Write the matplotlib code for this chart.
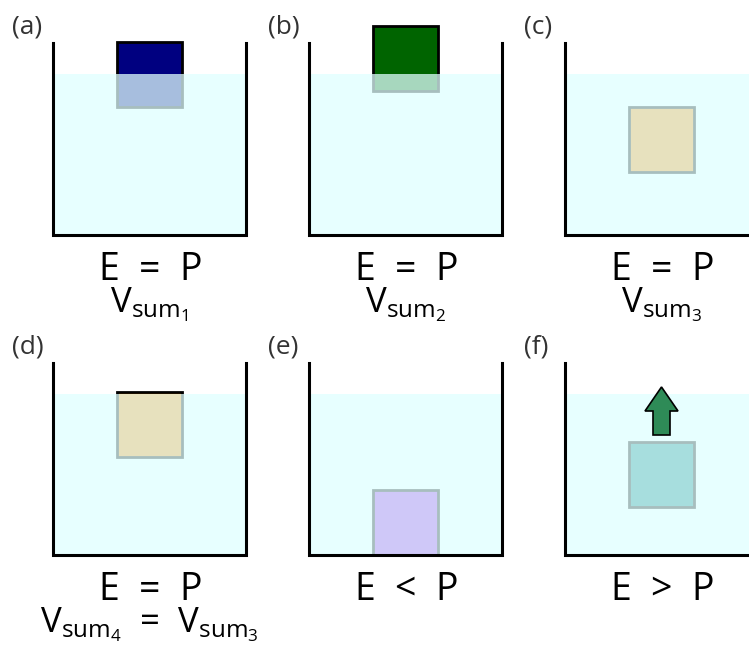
import matplotlib
matplotlib.use("Agg")
import matplotlib.pyplot as plt
import matplotlib.patches as mpatches

# panel content
panel_labels = ['(a)', '(b)', '(c)', '(d)', '(e)', '(f)']
block_colors = ['#000080', '#006400', '#ff8c00', '#ff8c00', '#a028e6', '#008080']
# top of the block measured from the water surface (px, negative = above water)
block_tops = [-32, -48, 33, -2, 96, 48]
equations = ['E = P', 'E = P', 'E = P', 'E = P', 'E < P', 'E > P']
volume_labels = [r'V_{sum_1}', r'V_{sum_2}', r'V_{sum_3}', r'V_{sum_4}\ =\ V_{sum_3}', '', '']
arrow_panels = [5]

# layout (pixels)
COL_X = 53
COL_STEP = 256
ROW_Y = 43
ROW_STEP = 320
TANK_W = 193
TANK_H = 192
WATER_DEPTH = 31
BLOCK = 65

plt.rcParams['font.family'] = ['Open Sans', 'DejaVu Sans']
plt.rcParams['mathtext.fontset'] = 'custom'
plt.rcParams['mathtext.rm'] = 'Open Sans'


def draw_panel(ax, i):
    x0 = COL_X + (i % 3) * COL_STEP
    y0 = ROW_Y + (i // 3) * ROW_STEP
    surface = y0 + WATER_DEPTH
    cx = x0 + TANK_W / 2

    # block first, water goes over it
    bx = cx - BLOCK / 2
    by = surface + block_tops[i]
    ax.add_patch(mpatches.Rectangle((bx, by), BLOCK, BLOCK, facecolor=block_colors[i],
                                    edgecolor='black', lw=2, zorder=2))
    ax.add_patch(mpatches.Rectangle((x0, surface), TANK_W, y0 + TANK_H - surface,
                                    facecolor='#e0ffff', edgecolor='none', alpha=0.75, zorder=3))

    # tank walls
    ax.plot([x0, x0, x0 + TANK_W, x0 + TANK_W], [y0, y0 + TANK_H, y0 + TANK_H, y0],
            color='black', lw=2.2, solid_joinstyle='miter', zorder=4)

    if i in arrow_panels:
        ax.add_patch(mpatches.FancyArrow(cx, by - 7, 0, -48, width=17, head_width=33, head_length=24,
                                         length_includes_head=True, facecolor='#2e8b57',
                                         edgecolor='black', lw=1.2, zorder=5))

    ax.text(x0 - 41, y0 - 16, panel_labels[i], fontsize=19, ha='left', va='center', color='#333333')
    eq = equations[i].replace(' ', r'\ ')
    ax.text(cx, y0 + TANK_H + 35, '$\\mathregular{' + eq + '}$', fontsize=27, ha='center', va='center')
    if volume_labels[i]:
        ax.text(cx, y0 + TANK_H + 70, '$\\mathregular{' + volume_labels[i] + '}$', fontsize=25,
                ha='center', va='center')


def main():
    fig = plt.figure(figsize=(7.49, 6.46), dpi=100)
    ax = fig.add_axes([0, 0, 1, 1])
    ax.set_xlim(0, 749)
    ax.set_ylim(646, 0)
    ax.axis('off')
    for i in range(len(panel_labels)):
        draw_panel(ax, i)
    fig.savefig('out.png', dpi=100)
    plt.close(fig)


if __name__ == "__main__":
    main()
